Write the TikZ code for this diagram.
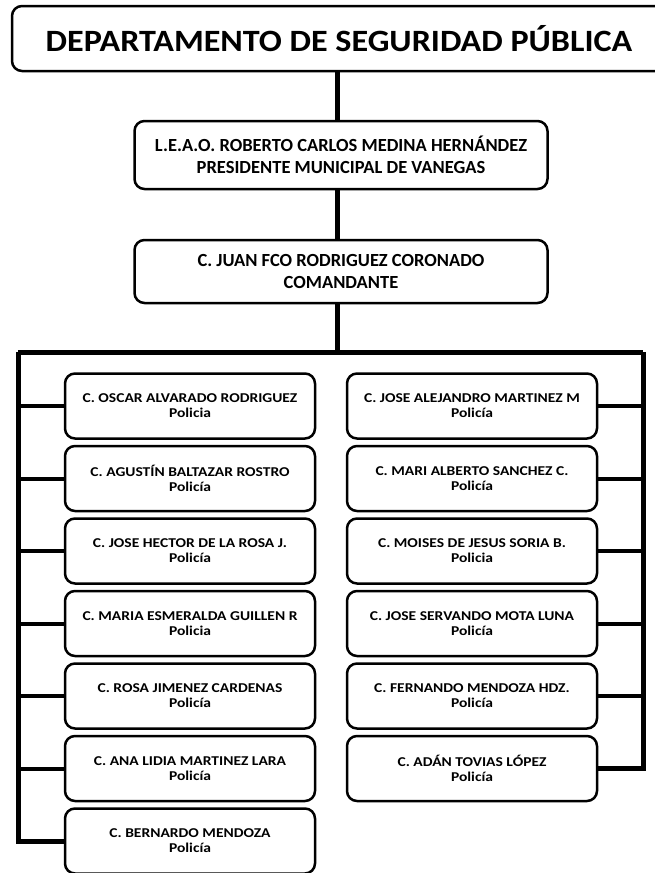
\documentclass[tikz,border=0pt]{standalone}
\usepackage{fontspec}
\setmainfont{Carlito}
\newfontfamily\widefont[FakeStretch=1.1]{Carlito}
\newfontfamily\rosterfont[FakeStretch=1.15]{Carlito}
\usetikzlibrary{positioning}

\begin{document}
\begin{tikzpicture}[
    x=1pt, y=-1pt,
    box/.style={draw=black, fill=white, rounded corners=10pt, line width=2.5pt, align=center, inner sep=2pt},
    chief/.style={box, minimum width=413pt, font=\bfseries\fontsize{18.5}{22}\selectfont},
    officer/.style={box, minimum width=250pt, minimum height=65pt, font=\rosterfont\bfseries\fontsize{13.5}{15}\selectfont},
    link/.style={line width=5pt},
    branch/.style={line width=4pt}
]

\useasboundingbox (0,0) rectangle (655,873);
\clip (0,0) rectangle (655,873);

\node[box, minimum width=654pt, minimum height=65pt, font=\widefont\bfseries\fontsize{31}{34}\selectfont] (t_dept) at (339,38.5) {DEPARTAMENTO DE SEGURIDAD PÚBLICA};

\node[chief, minimum height=68pt] (c_pres) at (341,155) {L.E.A.O. ROBERTO CARLOS MEDINA HERNÁNDEZ\\PRESIDENTE MUNICIPAL DE VANEGAS};
\node[chief, minimum height=63pt] (c_com) at (341,271.5) {C. JUAN FCO RODRIGUEZ CORONADO\\COMANDANTE};

% left column
\node[officer] (p_l1) at (190,406) {C. OSCAR ALVARADO RODRIGUEZ\\Policia};
\node[officer, below=5pt of p_l1] (p_l2) {C. AGUSTÍN BALTAZAR ROSTRO\\Policía};
\node[officer, below=5pt of p_l2] (p_l3) {C. JOSE HECTOR DE LA ROSA J.\\Policía};
\node[officer, below=5pt of p_l3] (p_l4) {C. MARIA ESMERALDA GUILLEN R\\Policia};
\node[officer, below=5pt of p_l4] (p_l5) {C. ROSA JIMENEZ CARDENAS\\Policía};
\node[officer, below=5pt of p_l5] (p_l6) {C. ANA LIDIA MARTINEZ LARA\\Policía};
\node[officer, below=5pt of p_l6] (p_l7) {C. BERNARDO MENDOZA\\Policía};

% right column
\node[officer] (p_r1) at (472,406) {C. JOSE ALEJANDRO MARTINEZ M\\Policía};
\node[officer, below=5pt of p_r1] (p_r2) {C. MARI ALBERTO SANCHEZ C.\\Policía};
\node[officer, below=5pt of p_r2] (p_r3) {C. MOISES DE JESUS SORIA B.\\Policia};
\node[officer, below=5pt of p_r3] (p_r4) {C. JOSE SERVANDO MOTA LUNA\\Policía};
\node[officer, below=5pt of p_r4] (p_r5) {C. FERNANDO MENDOZA HDZ.\\Policía};
\node[officer, below=5pt of p_r5] (p_r6) {C. ADÁN TOVIAS LÓPEZ\\Policía};

\coordinate (spine) at (337,0);
\coordinate (bus_l) at (18,352);
\coordinate (bus_r) at (643,352);

\draw[link] (t_dept.south -| spine) -- (c_pres.north -| spine);
\draw[link] (c_pres.south -| spine) -- (c_com.north -| spine);
\draw[link] (c_com.south -| spine) -- (bus_l -| spine);
\draw[link] (bus_l) -- (bus_r);
\draw[link] (bus_l) |- (p_l7.west);
\draw[link] (bus_r) |- (p_r6.east);

\draw[branch] (p_l1.west) -- (p_l1.west -| bus_l);
\draw[branch] (p_l2.west) -- (p_l2.west -| bus_l);
\draw[branch] (p_l3.west) -- (p_l3.west -| bus_l);
\draw[branch] (p_l4.west) -- (p_l4.west -| bus_l);
\draw[branch] (p_l5.west) -- (p_l5.west -| bus_l);
\draw[branch] (p_l6.west) -- (p_l6.west -| bus_l);

\draw[branch] (p_r1.east) -- (p_r1.east -| bus_r);
\draw[branch] (p_r2.east) -- (p_r2.east -| bus_r);
\draw[branch] (p_r3.east) -- (p_r3.east -| bus_r);
\draw[branch] (p_r4.east) -- (p_r4.east -| bus_r);
\draw[branch] (p_r5.east) -- (p_r5.east -| bus_r);

\end{tikzpicture}
\end{document}
